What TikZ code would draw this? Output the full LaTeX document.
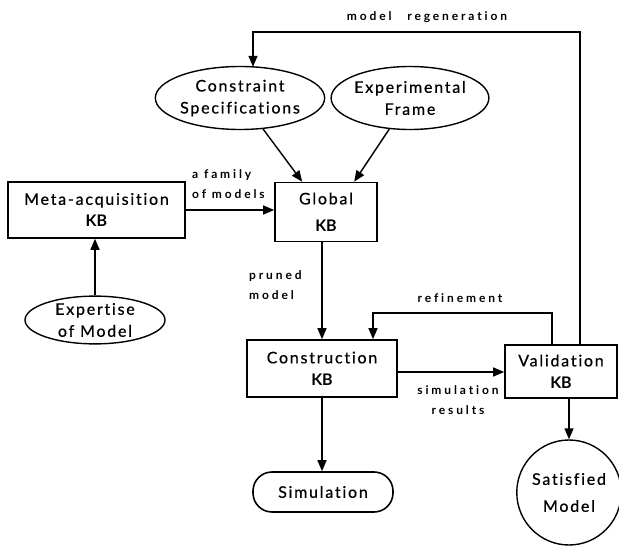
\documentclass[tikz,border=0pt]{standalone}
\usepackage{fontspec}
\usetikzlibrary{shapes.geometric,arrows.meta}
\newfontfamily\boxfont[LetterSpace=11,FakeBold=0.6,Ligatures=NoCommon]{Lato}
\newfontfamily\kbfont{Lato}
\newfontfamily\labfont[LetterSpace=24,Ligatures=NoCommon]{Lato}
\newcommand{\kb}{{\kbfont\bfseries KB}}
\begin{document}
\begin{tikzpicture}[x=1pt,y=-1pt,
  arr/.style={line width=1.4pt,-{Triangle[length=11pt,width=9pt]}},
  box/.style={draw,line width=1.6pt,rectangle,inner sep=0pt,align=center,
    font=\boxfont\fontsize{16}{22}\selectfont},
  oval/.style={draw,line width=1.4pt,ellipse,inner sep=0pt,align=center,
    font=\boxfont\fontsize{16}{22}\selectfont},
  lab/.style={inner sep=0pt,font=\labfont\bfseries\fontsize{12}{20}\selectfont}]
\fill[white] (0,0) rectangle (619,548);
\useasboundingbox (0,0) rectangle (619,548);

% knowledge bases and sources
\node[oval,minimum width=153pt,minimum height=63pt] (cs) at (240,98) {Constraint\\Specifications};
\node[oval,minimum width=156pt,minimum height=63pt] (ef) at (410,98) {Experimental\\Frame};
\node[box,minimum width=102pt,minimum height=59pt,font=\boxfont\fontsize{16}{27}\selectfont] (gl) at (326,212) {Global\\\kb};
\node[box,minimum width=177pt,minimum height=56pt] (meta) at (96.5,210) {Meta-acquisition\\\kb};
\node[oval,minimum width=140pt,minimum height=45pt] (exp) at (95,320) {Expertise\\of Model};
\node[box,minimum width=150pt,minimum height=57pt] (con) at (322,368.5) {Construction\\\kb};
\node[box,minimum width=112pt,minimum height=53pt] (val) at (561,371.5) {Validation\\\kb};
\node[oval,minimum width=97pt,minimum height=105pt,font=\boxfont\fontsize{16}{27}\selectfont] (sat) at (569,492.5) {Satisfied\\Model};
\node[box,rounded corners=19pt,minimum width=140pt,minimum height=40pt] (sim) at (323,492) {Simulation};

% labels
\node[lab] (lregen) at (427,17) {model\hspace{10pt} regeneration};
\node[lab,anchor=west,align=left] (lfam) at (192,184) {a family\\of models};
\node[lab,anchor=west,align=left] (lprune) at (249,285) {pruned\\model};
\node[lab] (lref) at (460,298) {refinement};
\node[lab,align=center] (lsim) at (458,400) {simulation\\results};

% bend points of the feedback loops
\coordinate (refc) at (373,313);
\coordinate (regc) at (253,32);

% connectors
\draw[arr] (cs) -- ([xshift=28pt]gl.north west);
\draw[arr] (ef) -- ([xshift=80pt]gl.north west);
\draw[arr] (meta.east) -- (meta.east -| gl.west);
\draw[arr] (exp.north) -- (exp.north |- meta.south);
\draw[arr] (gl.south -| con.north) -- (con.north);
\draw[arr] (con.east |- 0,372) -- (val.west |- 0,372);
\draw[arr] (con.south) -- (con.south |- sim.north);
\draw[arr] (sat.north |- val.south) -- (sat.north);
\draw[arr] ([xshift=-9pt]val.north) |- (refc) -- (refc |- con.north);
\draw[arr] ([xshift=19pt]val.north) |- (regc) -- ([yshift=-1pt]regc |- cs.north);
\end{tikzpicture}
\end{document}
